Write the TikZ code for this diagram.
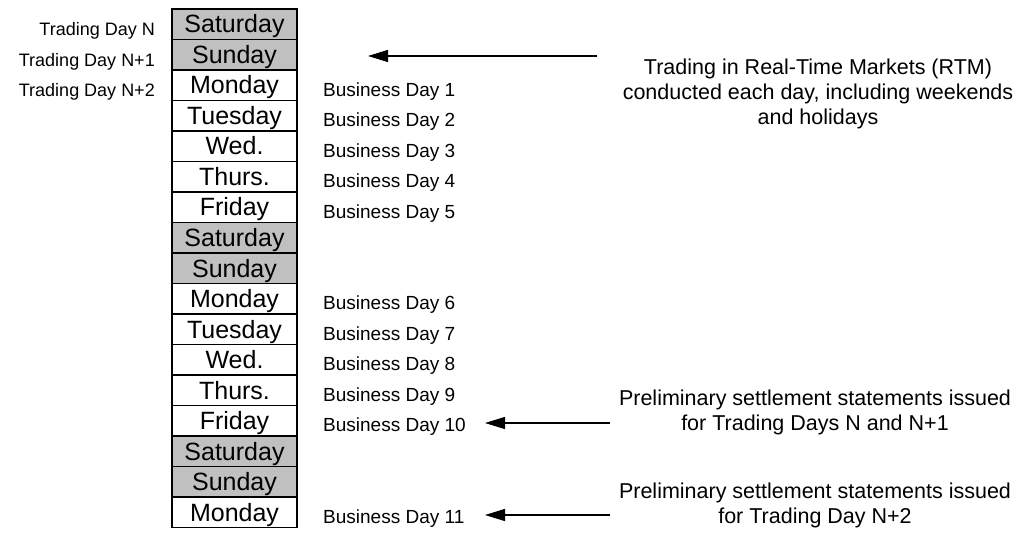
\documentclass[tikz,border=0pt]{standalone}
\usepackage{fontspec}
\setmainfont{Liberation Sans}
\usetikzlibrary{arrows.meta}
\definecolor{daygray}{RGB}{192,192,192}
\tikzset{
  daybox/.style={draw=black, line width=1.2pt, minimum width=125pt, minimum height=30.5pt, inner sep=0pt, anchor=center},
  wkend/.style={daybox, fill=daygray},
  wkday/.style={daybox, fill=white},
  daytext/.style={font=\fontsize{25}{28}\selectfont, inner sep=0pt, anchor=base},
  tdlabel/.style={font=\fontsize{18}{20}\selectfont, inner sep=0pt, anchor=base east},
  bdlabel/.style={font=\fontsize{19}{21}\selectfont, inner sep=0pt, anchor=base west},
  note/.style={font=\fontsize{21.5}{25}\selectfont, inner sep=0pt, anchor=base},
  pointer/.style={line width=1.3pt, -{Triangle[length=20pt,width=12pt]}}
}
\begin{document}
\begin{tikzpicture}[x=1pt,y=-1pt]
\useasboundingbox (0,0) rectangle (1024,534);
% day boxes
\foreach \d/\s [count=\i from 0] in {Saturday/wkend,Sunday/wkend,Monday/wkday,Tuesday/wkday,Wed./wkday,Thurs./wkday,Friday/wkday,Saturday/wkend,Sunday/wkend,Monday/wkday,Tuesday/wkday,Wed./wkday,Thurs./wkday,Friday/wkday,Saturday/wkend,Sunday/wkend,Monday/wkday}{
  \node[\s] (box\i) at (234.5, {9+30.5*(\i+0.5)}) {};
  \node[daytext] (day\i) at (234.5, {9+30.5*(\i+0.5)+8.75}) {\d};
}
% trading day labels
\node[tdlabel] (tdN) at (155,36) {Trading Day N};
\node[tdlabel] (tdN1) at (155,66.5) {Trading Day N+1};
\node[tdlabel] (tdN2) at (155,97) {Trading Day N+2};
% business day labels
\foreach \b/\r in {1/2,2/3,3/4,4/5,5/6,6/9,7/10,8/11,9/12,10/13,11/16}{
  \node[bdlabel] (bd\b) at (323, {9+30.5*(\r+0.5)+11}) {Business Day \b};
}
% notes
\node[note] (rtm) at (818,75) {\begin{tabular}[t]{@{}c@{}}Trading in Real-Time Markets (RTM)\\ conducted each day, including weekends\\ and holidays\end{tabular}};
\node[note] (prelim1) at (815,405) {\begin{tabular}[t]{@{}c@{}}Preliminary settlement statements issued\\ for Trading Days N and N+1\end{tabular}};
\node[note] (prelim2) at (815,498.5) {\begin{tabular}[t]{@{}c@{}}Preliminary settlement statements issued\\ for Trading Day N+2\end{tabular}};
% arrows
\coordinate (a1s) at (597,56);
\coordinate (a1e) at (368,56);
\coordinate (a2s) at (610,423);
\coordinate (a2e) at (485,423);
\coordinate (a3s) at (610,515);
\coordinate (a3e) at (485,515);
\draw[pointer] (a1s) -- (a1e);
\draw[pointer] (a2s) -- (a2e);
\draw[pointer] (a3s) -- (a3e);
\end{tikzpicture}
\end{document}
